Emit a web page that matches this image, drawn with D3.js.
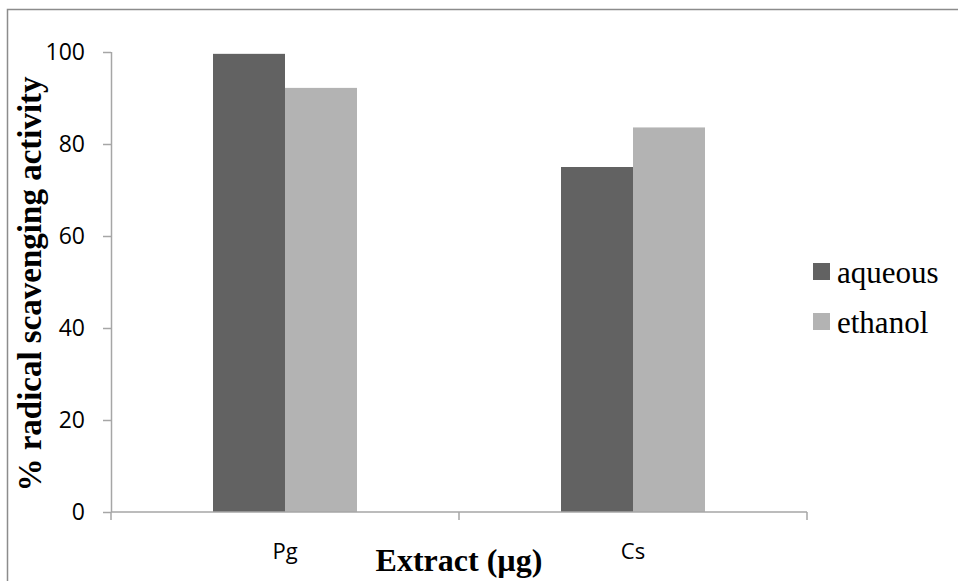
<!DOCTYPE html>
<html lang="en">
  <head>
    <meta charset="utf-8">
    <title>Radical scavenging activity</title>
    <script src="https://d3js.org/d3.v7.js"></script>
    <style>
      body { margin: 0; background: white; }
    </style>
  </head>

  <body>
  <script>

// data

  var categories = ["Pg", "Cs"];
  var series = ["aqueous", "ethanol"];
  var aqueous = [99.6, 75.0];
  var ethanol = [92.2, 83.6];
  var yTicks = [0, 20, 40, 60, 80, 100];

  var colors = {aqueous: "#626262", ethanol: "#b3b3b3"};

  var w = 958;
  var h = 581;
  var margin = {top: 52, left: 111, right: 151, bottom: 69};

  var rows = categories.map((c, i) => ({cat: c, aqueous: aqueous[i], ethanol: ethanol[i]}));

  var x0 = d3.scaleBand()
      .domain(categories)
      .range([margin.left, w - margin.right])
      .padding(0);

  var x1 = d3.scaleBand()
      .domain(series)
      .range([0, x0.bandwidth()])
      .paddingInner(0)
      .paddingOuter(1.4167);

  var yScale = d3.scaleLinear()
      .domain([0, 100])
      .range([h - margin.bottom, margin.top]);

  var svg = d3.select("body")
    .append("svg")
      .attr("width", w)
      .attr("height", h);

// outer frame

  svg.append("rect")
      .attr("x", 7.5)
      .attr("y", 9.5)
      .attr("width", 1200)
      .attr("height", 1200)
      .attr("fill", "white")
      .attr("stroke", "#8c8c8c")
      .attr("stroke-width", 1.5);

// bars

  svg.append("g")
    .selectAll("g")
    .data(rows)
    .enter().append("g")
      .attr("transform", d => `translate(${x0(d.cat)},0)`)
    .selectAll("rect")
    .data(d => series.map(s => ({key: s, value: d[s]})))
    .enter().append("rect")
      .attr("x", d => x1(d.key))
      .attr("y", d => yScale(d.value))
      .attr("width", x1.bandwidth())
      .attr("height", d => yScale(0) - yScale(d.value))
      .attr("fill", d => colors[d.key]);

// axes

  var yAxis = svg.append("g")
      .attr("transform", `translate(${margin.left},0)`)
      .call(d3.axisLeft(yScale).tickValues(yTicks).tickSize(8).tickPadding(18));

  yAxis.select(".domain").attr("stroke", "#a6a6a6").attr("stroke-width", 1.5)
      .attr("d", `M0.5,${yScale(0)}V${yScale(100)}`);
  yAxis.selectAll(".tick line").attr("stroke", "#a6a6a6").attr("stroke-width", 1.5);
  yAxis.selectAll(".tick text")
      .attr("font-family", "'Open Sans', sans-serif")
      .attr("font-size", "23px")
      .attr("fill", "#000");

  var xBottom = h - margin.bottom;
  var xAxis = svg.append("g")
      .attr("transform", `translate(0,${xBottom})`);

  xAxis.append("line")
      .attr("x1", margin.left).attr("x2", w - margin.right)
      .attr("y1", 0).attr("y2", 0)
      .attr("stroke", "#a6a6a6").attr("stroke-width", 1.5);

  var bounds = categories.map(c => x0(c)).concat([x0(categories[categories.length - 1]) + x0.bandwidth()]);
  xAxis.selectAll("line.tk")
    .data(bounds)
    .enter().append("line")
      .attr("class", "tk")
      .attr("x1", d => d).attr("x2", d => d)
      .attr("y1", 0).attr("y2", 8)
      .attr("stroke", "#a6a6a6").attr("stroke-width", 1.5);

  xAxis.selectAll("text")
    .data(categories)
    .enter().append("text")
      .attr("x", d => x0(d) + x0.bandwidth() / 2)
      .attr("y", 47)
      .attr("text-anchor", "middle")
      .attr("font-family", "'Open Sans', sans-serif")
      .attr("font-size", "22px")
      .text(d => d);

// axis titles

  svg.append("text")
      .attr("x", (margin.left + w - margin.right) / 2)
      .attr("y", 571)
      .attr("text-anchor", "middle")
      .attr("font-family", "'Liberation Serif', 'Times New Roman', serif")
      .attr("font-weight", "bold")
      .attr("font-size", "32px")
      .text("Extract (µg)");

  svg.append("text")
      .attr("transform", "translate(41,284) rotate(-90)")
      .attr("text-anchor", "middle")
      .attr("font-family", "'Liberation Serif', 'Times New Roman', serif")
      .attr("font-weight", "bold")
      .attr("font-size", "33px")
      .text("% radical scavenging activity");

// legend

  var legend = svg.append("g")
      .attr("transform", "translate(813,263)")
    .selectAll("g")
    .data(series)
    .enter().append("g")
      .attr("transform", (d, i) => `translate(0,${i * 50})`);

  legend.append("rect")
      .attr("width", 17)
      .attr("height", 17)
      .attr("fill", d => colors[d]);

  legend.append("text")
      .attr("x", 24)
      .attr("y", 20)
      .attr("font-family", "'Liberation Serif', 'Times New Roman', serif")
      .attr("font-size", "31px")
      .text(d => d);

  </script>
  </body>

</html>
